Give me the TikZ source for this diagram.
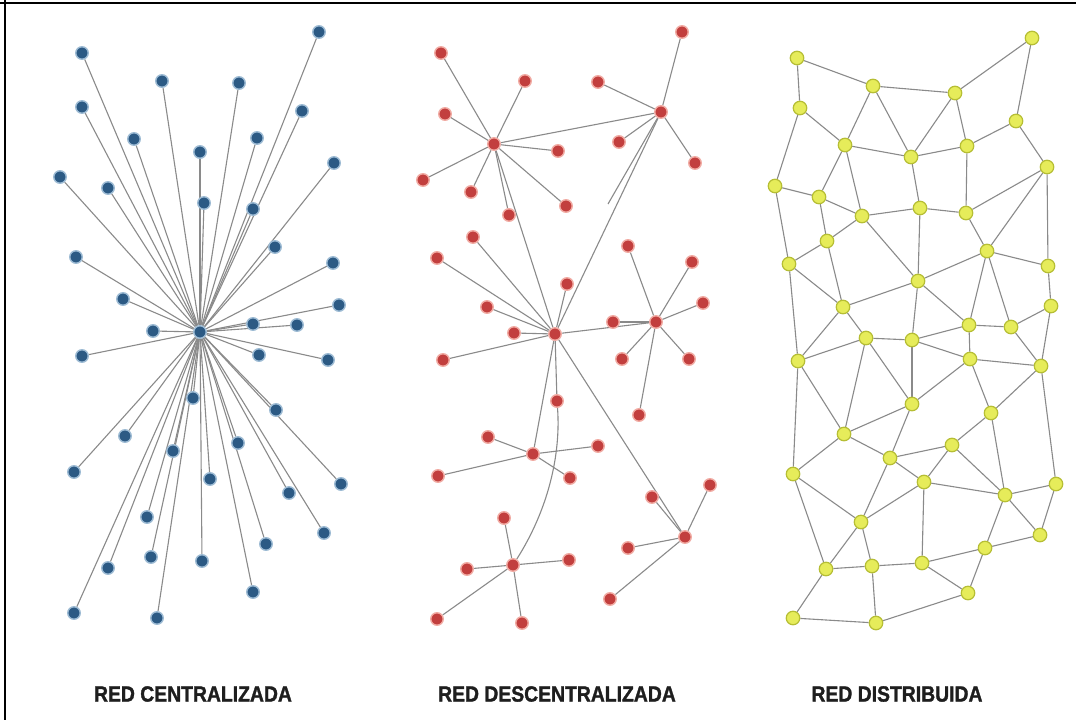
\documentclass[tikz,border=0pt]{standalone}
\usepackage{fontspec}
\setmainfont{Liberation Sans}
\newfontfamily\labfont{Liberation Sans}[BoldFeatures={FakeBold=1.5}]
\pgfdeclarelayer{bg}
\pgfdeclarelayer{paper}
\pgfsetlayers{paper,bg,main}
\definecolor{edgegray}{HTML}{8A8A8A}
\definecolor{bluefill}{HTML}{2C5A84}
\definecolor{bluehalo}{HTML}{9DBBD4}
\definecolor{redfill}{HTML}{C23F3E}
\definecolor{redhalo}{HTML}{F1ABA3}
\definecolor{yelfill}{HTML}{E6EC5A}
\definecolor{yelhalo}{HTML}{B6BE34}
\definecolor{labcol}{HTML}{1E1E1E}
\tikzset{
  ed/.style={draw=edgegray, line width=1.1pt},
  bn/.style={circle, inner sep=0pt, minimum size=12.5pt, fill=bluefill, draw=bluehalo, line width=1.4pt},
  rn/.style={circle, inner sep=0pt, minimum size=12.5pt, fill=redfill, draw=redhalo, line width=1.4pt},
  yn/.style={circle, inner sep=0pt, minimum size=13.5pt, fill=yelfill, draw=yelhalo, line width=1.2pt},
  lab/.style={text=labcol, font=\labfont\bfseries\fontsize{22}{26}\selectfont, xscale=0.88, inner sep=0pt}
}
\begin{document}
\begin{tikzpicture}[x=1pt,y=-1pt]
\useasboundingbox (0,0) rectangle (1076,720);
\begin{pgfonlayer}{paper}
\fill[white] (0,0) rectangle (1076,720);
\end{pgfonlayer}
\draw[black, line width=1.6pt] (0,3) -- (1076,3);
\draw[black, line width=1.6pt] (5,0) -- (5,720);

% ---------------- centralized ----------------
\node[bn] (bc) at (200,332) {};
\foreach \x/\y [count=\i] in {82/53,319/32,162/81,239/83,82/107,302/111,134/139,257/138,200/152,334/163,60/177,108/188,204/203,253/209,
275/247,76/257,333/263,123/299,339/305,253/324,297/325,153/331,82/356,259/355,328/360,193/398,276/410,125/436,238/443,
173/451,74/472,210/479,341/484,289/493,147/517,324/533,266/544,151/557,202/561,108/568,253/592,74/613,157/618}{
  \node[bn] (z\i) at (\x,\y) {};
  \begin{pgfonlayer}{bg}\draw[ed] (bc) -- (z\i);\end{pgfonlayer}
}

% ---------------- decentralized ----------------
\node[rn] (hA) at (494,144) {};
\node[rn] (hB) at (661,112) {};
\node[rn] (hC) at (555,334) {};
\node[rn] (hD) at (656,322) {};
\node[rn] (hE) at (533,454) {};
\node[rn] (hF) at (685,537) {};
\node[rn] (hG) at (513,565) {};
\node[rn] (n401) at (557,401) {};
\coordinate (bfree) at (608,204);
\begin{pgfonlayer}{bg}
\draw[ed] (hA) -- (hB);
\draw[ed] (hA) -- (hC);
\draw[ed] (hB) -- (hC);
\draw[ed] (hB) -- (bfree);
\draw[ed] (hC) -- (hD);
\draw[ed] (hC) -- (hE);
\draw[ed] (hC) -- (hF);
\draw[ed] (hC) -- (n401);
\draw[ed] (n401) .. controls (561,455) and (548,510) .. (hG);
\end{pgfonlayer}
\foreach \h/\lst in {A/{441/53,525/81,445/114,558/151,423/180,471/192,566/206,509/215},
                     B/{682/32,598/82,619/142,695/163},
                     C/{473/237,437/258,567/284,487/307,514/333,443/360},
                     D/{628/246,692/262,703/303,613/322,622/359,689/359,639/415},
                     E/{488/437,598/446,438/476,570/478},
                     F/{710/485,652/497,628/548,610/599},
                     G/{504/518,467/569,569/560,437/619,522/623}}{
  \foreach \x/\y [count=\i] in \lst {
    \node[rn] (r\h\i) at (\x,\y) {};
    \begin{pgfonlayer}{bg}\draw[ed] (h\h) -- (r\h\i);\end{pgfonlayer}
  }
}

% ---------------- distributed ----------------
\foreach \n/\x/\y in {a1/797/58,a2/1032/38,a3/873/86,a4/955/93,a5/800/108,a6/1016/121,a7/845/145,a8/967/146,a9/911/157,a10/1047/167,
a11/775/186,a12/819/197,a13/862/216,a14/920/208,a15/966/213,
b1/827/241,b2/987/251,b3/789/264,b4/1048/266,b5/918/281,b6/843/307,b7/1051/306,b8/969/325,b9/1011/327,b10/866/338,
b11/912/340,b12/798/361,b13/970/359,b14/1041/366,b15/912/404,b16/991/413,b17/844/434,b18/952/445,
c1/890/458,c3/793/474,c4/924/482,c5/1005/495,c6/1056/484,c7/861/522,c8/1040/535,c9/985/548,c10/826/569,c11/872/566,
c12/922/563,c13/968/593,c14/793/618,c15/876/623}{
  \node[yn] (y\n) at (\x,\y) {};
}
\begin{pgfonlayer}{bg}
\foreach \u/\v in {a1/a3,a3/a4,a4/a2,a1/a5,a2/a6,a3/a7,a3/a9,a4/a9,a4/a8,a5/a7,a5/a11,a7/a9,a9/a8,a8/a6,a6/a10,a7/a12,a7/a13,a9/a14,a8/a15,
a11/a12,a12/a13,a13/a14,a14/a15,a15/a10,
a11/b3,a12/b1,a13/b1,a13/b5,a14/b5,a15/b2,a10/b2,a10/b4,
b1/b3,b1/b6,b3/b6,b3/b12,b5/b2,b2/b4,b2/b8,b2/b9,b5/b6,b5/b8,b5/b11,b6/b10,b6/b12,b10/b11,b10/b12,b10/b17,b10/b15,
b11/b13,b11/b15,b8/b9,b8/b13,b8/b11,b9/b7,b9/b14,b4/b7,b7/b14,b13/b14,b13/b15,b13/b16,b14/b16,b12/b17,b15/b17,b16/b18,
b17/c3,b12/c3,b17/c1,b15/c1,c1/b18,c1/c4,c1/c7,b18/c4,b18/c5,c3/c7,c3/c10,c4/c5,c4/c7,c4/c12,c5/c6,c5/c8,c5/c9,b16/c5,
b14/c6,c6/c8,c7/c10,c7/c11,c9/c8,c9/c12,c9/c13,c10/c11,c10/c14,c11/c12,c11/c15,c12/c13,c13/c15,c14/c15}{
  \draw[ed] (y\u) -- (y\v);
}
\end{pgfonlayer}

% ---------------- labels ----------------
\node[lab] (l1) at (193,694) {RED CENTRALIZADA};
\node[lab] (l2) at (557,694) {RED DESCENTRALIZADA};
\node[lab] (l3) at (897,694) {RED DISTRIBUIDA};
\end{tikzpicture}
\end{document}
